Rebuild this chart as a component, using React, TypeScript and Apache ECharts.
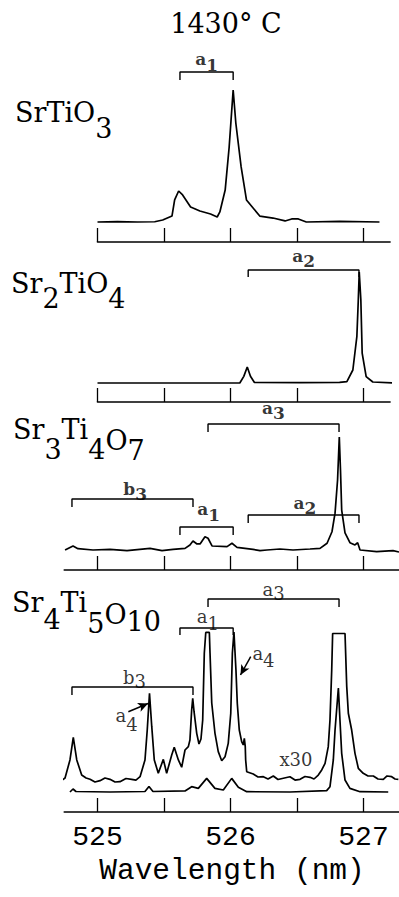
import React, { useEffect, useRef } from "react";
import * as echarts from "echarts";

// ---------- DATA (wavelength in nm, intensity in arbitrary units, strongest peak = 100) ----------
const TITLE = "1430° C";
const AXIS_NAME = "Wavelength (nm)";
const TICK_VALUES = [525, 525.5, 526, 526.5, 527];
const TICK_LABELS = [525, 526, 527];

// line pairs marked by brackets (nm)
const LINE_A1: [number, number] = [525.62, 526.02];
const LINE_A2: [number, number] = [526.133, 526.966];
const LINE_A3: [number, number] = [525.831, 526.816];
const LINE_B3: [number, number] = [524.808, 525.718];

const srtio3Spectrum: [number, number][] = [
  [525.0, 0], [525.15, 0.3], [525.3, 0], [525.43, 0.2], [525.49, 1.5], [525.56, 4.5],
  [525.58, 16.7], [525.61, 23.5], [525.64, 20.5], [525.7, 11.4], [525.77, 8.3], [525.85, 6.1],
  [525.9, 3.8], [525.92, 7.6], [525.96, 24.2], [525.99, 56.8], [526.02, 100], [526.04, 75],
  [526.08, 41.7], [526.12, 16.7], [526.17, 10.6], [526.22, 4.5], [526.32, 3.0], [526.41, 0.8],
  [526.46, 2.3], [526.51, 2.3], [526.57, 0], [526.82, 0.5], [527.12, 0],
];

const sr2tio4Spectrum: [number, number][] = [
  [525.0, 0], [526.07, 0], [526.1, 6], [526.126, 14.4], [526.15, 6], [526.18, 0.5],
  [526.52, 0.3], [526.82, 0.5], [526.875, 1.2], [526.92, 11.7], [526.95, 41.7], [526.96, 72],
  [526.968, 100], [526.98, 75], [526.99, 27], [527.02, 5.7], [527.07, 0.9], [527.25, 0],
];

const sr3ti4o7Spectrum: [number, number][] = [
  [524.756, -0.9], [524.816, 2.7], [524.853, 0.3], [524.966, -0.9], [525.094, -0.4],
  [525.222, -1.5], [525.395, 0.6], [525.485, -1.5], [525.568, -0.3], [525.658, 0.6],
  [525.695, 3.6], [525.718, 7.1], [525.748, 4.5], [525.771, 4.5], [525.808, 11.0],
  [525.831, 9.6], [525.861, 2.7], [525.974, 2.1], [526.011, 5.1], [526.049, 1.5],
  [526.169, -0.3], [526.222, -1.5], [526.274, -0.9], [526.372, 0], [526.47, -0.9],
  [526.598, 0], [526.673, 0.6], [526.726, 5.1], [526.763, 15.4], [526.786, 32],
  [526.805, 61.6], [526.818, 100], [526.827, 70.5], [526.836, 34.8], [526.861, 14.3],
  [526.898, 5.6], [526.936, 3.6], [526.956, 5.6], [526.974, -0.9], [527.099, -2.4],
  [527.222, -1.5], [527.267, -2.7],
];

// Sr4Ti5O10, recorded at x1
const sr4ti5o10Spectrum: [number, number][] = [
  [524.793, 0], [524.816, 2.9], [524.838, 0.5], [525.094, 0], [525.357, 0.5], [525.387, 5.3],
  [525.417, 0.5], [525.658, 1], [525.708, 5.1], [525.758, 3.5], [525.821, 13.1], [525.883, 3.5],
  [525.946, 1.9], [526.009, 13.1], [526.059, 4.5], [526.122, 0.3], [526.447, 0], [526.723, 1.3],
  [526.748, 5.1], [526.773, 30.8], [526.786, 59.6], [526.811, 100], [526.823, 69.2],
  [526.836, 37.2], [526.861, 11.5], [526.898, 3.5], [526.974, 0.3], [527.186, 0],
];

// Sr4Ti5O10, recorded at x30 (offset, saturated at top)
const sr4ti5o10x30Spectrum: [number, number][] = [
  [524.7, 8.4], [524.726, 10.6], [524.756, 13.5], [524.793, 30.8], [524.818, 52.6],
  [524.844, 30.8], [524.881, 16.3], [524.914, 13.5], [524.944, 12.2], [524.981, 9.6],
  [525.019, 10.9], [525.056, 13.5], [525.094, 12.2], [525.132, 9.6], [525.169, 9.9],
  [525.214, 13], [525.257, 12.2], [525.289, 11.5], [525.32, 14.7], [525.357, 30.8],
  [525.374, 59.6], [525.391, 94.9], [525.408, 62.8], [525.427, 30.8], [525.457, 18],
  [525.495, 31.4], [525.52, 18], [525.558, 35.6], [525.577, 43], [525.608, 30.8],
  [525.633, 23.8], [525.658, 40.4], [525.683, 43.6], [525.695, 50], [525.708, 78.8],
  [525.716, 90.1], [525.726, 77.2], [525.746, 56.4], [525.763, 46.2], [525.778, 51],
  [525.791, 69.2], [525.803, 133.4], [525.814, 153.4], [525.841, 153.4], [525.846, 133.7],
  [525.859, 85.6], [525.883, 56.7], [525.908, 38.8], [525.934, 30.1], [525.959, 33.9],
  [525.983, 46.8], [526.002, 75.7], [526.014, 133.4], [526.026, 153.8], [526.041, 117.3],
  [526.051, 85.3], [526.066, 59.6], [526.084, 48.4], [526.096, 45.2], [526.104, 51.6],
  [526.111, 43.6], [526.114, 30.8], [526.122, 19.5], [526.171, 17.3], [526.207, 14.4],
  [526.247, 14.7], [526.282, 12.5], [526.322, 15.4], [526.357, 12], [526.397, 13.2],
  [526.447, 14.7], [526.485, 11.5], [526.523, 12.2], [526.56, 14.9], [526.598, 14.1],
  [526.628, 12.5], [526.66, 16.3], [526.686, 21.2], [526.711, 27.6], [526.735, 43.6],
  [526.748, 69.2], [526.761, 117.3], [526.768, 152.4], [526.861, 152.4], [526.874, 101.3],
  [526.886, 75.7], [526.911, 59.6], [526.936, 37.2], [526.961, 22.8], [526.998, 18],
  [527.034, 15.4], [527.074, 15.4], [527.109, 12.5], [527.149, 12.2], [527.177, 15.4],
  [527.212, 14.7], [527.237, 12.5], [527.262, 12.2],
];

// ---------- LAYOUT / STYLE ----------
const W = 399;
const H = 897;
const INK = "#000";
const SERIF = "DejaVu Serif";
const MONO = "Liberation Mono";
const PX_PER_NM = 133;
const X_525 = 97.5;

type Panel = { axisY: number; baseY: number; ppu: number; top: number; xMin: number; xMax: number };
const PANELS: Panel[] = [
  { axisY: 242, baseY: 222, ppu: 1.32, top: 40, xMin: 525, xMax: 527.2 },
  { axisY: 402, baseY: 383, ppu: 1.11, top: 245, xMin: 525, xMax: 527.2 },
  { axisY: 570, baseY: 549, ppu: 1.12, top: 400, xMin: 524.75, xMax: 527.27 },
  { axisY: 812, baseY: 792, ppu: 1.04, top: 578, xMin: 524.75, xMax: 527.27 },
];

type Bracket = {
  panel: number; line: [number, number]; top: number; drop: number;
  label: string; sub: string; ly: number; dx: number; size: number; bold: boolean; shift: number;
};
const BRACKETS: Bracket[] = [
  { panel: 0, line: LINE_A1, top: 113.6, drop: 6, label: "a", sub: "1", ly: 123.5, dx: 0, size: 17, bold: true, shift: 6 },
  { panel: 1, line: LINE_A2, top: 101.8, drop: 6.3, label: "a", sub: "2", ly: 114.5, dx: 0, size: 17, bold: true, shift: 5 },
  { panel: 2, line: LINE_A3, top: 111.6, drop: 7.1, label: "a", sub: "3", ly: 125.5, dx: 0, size: 17, bold: true, shift: 5 },
  { panel: 2, line: LINE_B3, top: 44.6, drop: 7.1, label: "b", sub: "3", ly: 53.5, dx: 0.02, size: 17, bold: true, shift: 5 },
  { panel: 2, line: LINE_A1, top: 19.6, drop: 7.1, label: "a", sub: "1", ly: 35.5, dx: 0.015, size: 17, bold: true, shift: 6 },
  { panel: 2, line: LINE_A2, top: 30.4, drop: 7.1, label: "a", sub: "2", ly: 41.5, dx: 0.01, size: 17, bold: true, shift: 5 },
  { panel: 3, line: LINE_A3, top: 185.6, drop: 7.7, label: "a", sub: "3", ly: 195, dx: 0, size: 18, bold: false, shift: 4 },
  { panel: 3, line: LINE_A1, top: 157.7, drop: 6.7, label: "a", sub: "1", ly: 168.5, dx: 0.01, size: 18, bold: false, shift: 7 },
  { panel: 3, line: LINE_B3, top: 101, drop: 7.7, label: "b", sub: "3", ly: 110, dx: 0.015, size: 18, bold: false, shift: 4 },
];

// free text annotations in panel 4 (data coordinates)
const ANNOTATIONS = [
  { x: 525.218, y: 74, main: "a", sub: "4", shift: 9 },
  { x: 526.248, y: 133, main: "a", sub: "4", shift: 7 },
  { x: 526.492, y: 31.7, main: "x30", sub: "", shift: 0 },
];
const ARROWS: [[number, number], [number, number]][] = [
  [[525.232, 77.2], [525.38, 85.1]],
  [[526.152, 130.1], [526.075, 112.5]],
];

type Part = [string, number];
const FORMULAS: { x: number; y: number; parts: Part[] }[] = [
  { x: 15, y: 112, parts: [["SrTiO", 0], ["3", 16]] },
  { x: 11, y: 283, parts: [["Sr", 0], ["2", 15], ["TiO", 0], ["4", 15]] },
  { x: 13, y: 429, parts: [["Sr", 0], ["3", 20], ["Ti", 0], ["4", 20], ["O", 11], ["7", 21]] },
  { x: 12, y: 602, parts: [["Sr", 0], ["4", 17], ["Ti", 0], ["5", 21], ["O", 12], ["10", 19]] },
];

function richParts(parts: Part[], size: number, weight: string) {
  const rich: Record<string, any> = {};
  let text = "";
  parts.forEach(([t, s]) => {
    const key = "r" + s;
    rich[key] = {
      fontFamily: SERIF, fontSize: size, fontWeight: weight, color: INK, fill: INK,
      padding: s ? [s * 2, 0, 0, 0] : 0,
    };
    text += `{${key}|${t}}`;
  });
  return { text, rich };
}

function buildOption() {
  const grid = PANELS.map((p) => {
    const left = X_525 + (p.xMin - 525) * PX_PER_NM;
    const width = (p.xMax - p.xMin) * PX_PER_NM;
    return { left, width, top: p.top, height: p.axisY - p.top, outerBoundsMode: "none", containLabel: false };
  });
  const xAxis = PANELS.map((p, i) => ({
    type: "value", gridIndex: i, min: p.xMin, max: p.xMax,
    axisLine: { show: true, onZero: false, lineStyle: { color: INK, width: 1.6 } },
    axisTick: { show: true, inside: true, length: 14, customValues: TICK_VALUES, lineStyle: { color: INK, width: 1.3 } },
    axisLabel: {
      show: i === 3, customValues: TICK_LABELS, margin: 25.5, verticalAlign: "middle",
      fontFamily: MONO, fontSize: 28, color: INK, formatter: (v: number) => String(v),
    },
    splitLine: { show: false },
  }));
  const yAxis = PANELS.map((p, i) => ({
    type: "value", gridIndex: i, show: false,
    min: -(p.axisY - p.baseY) / p.ppu, max: (p.baseY - p.top) / p.ppu,
    splitLine: { show: false },
  }));

  const line = (g: number, data: any[], width = 1.7, extra: any = {}) => ({
    type: "line", xAxisIndex: g, yAxisIndex: g, data, symbol: "none", showSymbol: false,
    clip: false, silent: true, lineStyle: { color: INK, width }, itemStyle: { color: INK },
    emphasis: { disabled: true }, ...extra,
  });
  const label = (g: number, x: number, y: number, text: string, rich: any) => ({
    type: "scatter", xAxisIndex: g, yAxisIndex: g, symbol: "circle", symbolSize: 1, silent: true,
    itemStyle: { color: "rgba(0,0,0,0)" }, data: [[x, y]],
    label: { show: true, position: "inside", formatter: text, rich, color: INK },
    emphasis: { disabled: true },
  });

  const series: any[] = [
    line(0, srtio3Spectrum),
    line(1, sr2tio4Spectrum),
    line(2, sr3ti4o7Spectrum),
    line(3, sr4ti5o10Spectrum),
    line(3, sr4ti5o10x30Spectrum, 1.7, {
      markLine: {
        silent: true, symbol: ["none", "arrow"], symbolSize: [7, 10], animation: false,
        label: { show: false }, lineStyle: { color: INK, width: 1.5, type: "solid" },
        emphasis: { disabled: true },
        data: ARROWS.map(([a, b]) => [{ coord: a }, { coord: b }]),
      },
    }),
  ];

  BRACKETS.forEach((b) => {
    const [l1, l2] = b.line;
    series.push(line(b.panel, [[l1, b.top - b.drop], [l1, b.top], [l2, b.top], [l2, b.top - b.drop]], 1.4));
    const r = richParts([[b.label, 0], [b.sub, b.shift]], b.size, b.bold ? "bold" : "normal");
    series.push(label(b.panel, (l1 + l2) / 2 + b.dx, b.ly, r.text, r.rich));
  });

  ANNOTATIONS.forEach((a) => {
    const parts: Part[] = a.sub ? [[a.main, 0], [a.sub, a.shift]] : [[a.main, 0]];
    const r = richParts(parts, 18, "normal");
    series.push(label(3, a.x, a.y, r.text, r.rich));
  });

  const graphic: any[] = [
    {
      type: "text", x: 226, y: 23, silent: true,
      style: { text: TITLE, fontFamily: SERIF, fontSize: 27, fill: INK, align: "center", verticalAlign: "middle" },
    },
    {
      type: "text", x: 232, y: 871, silent: true,
      style: { text: AXIS_NAME, fontFamily: MONO, fontSize: 29.5, fill: INK, align: "center", verticalAlign: "middle" },
    },
  ];
  FORMULAS.forEach((f) => {
    const r = richParts(f.parts, 27, "normal");
    graphic.push({
      type: "text", x: f.x, y: f.y, silent: true,
      style: { text: r.text, rich: r.rich, fontFamily: SERIF, fontSize: 27, fill: INK, align: "left", verticalAlign: "middle" },
    });
  });

  return {
    animation: false,
    backgroundColor: "#fff",
    textStyle: { fontFamily: SERIF },
    grid, xAxis, yAxis, series, graphic,
  };
}

export default function App() {
  const ref = useRef<HTMLDivElement>(null);
  useEffect(() => {
    if (!ref.current) return;
    const chart = echarts.init(ref.current, null, { renderer: "svg", width: W, height: H });
    chart.setOption(buildOption() as any);
    return () => chart.dispose();
  }, []);
  return (
    <div
      ref={ref}
      style={{ position: "fixed", left: 0, top: 0, width: W, height: H, background: "#fff" }}
    />
  );
}
